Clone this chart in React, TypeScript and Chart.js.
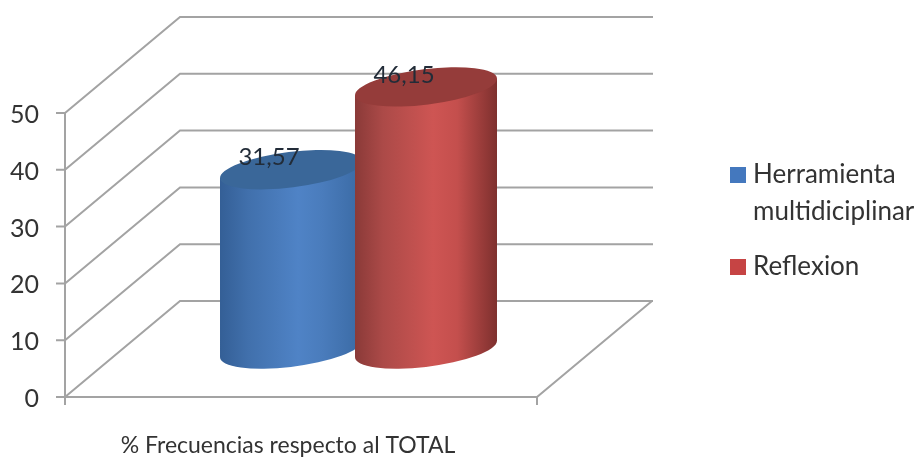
import React, { useEffect, useRef } from "react";
import { Chart, registerables } from "chart.js";

Chart.register(...registerables);

// Chart content
const categories = ["% Frecuencias respecto al TOTAL"];
const seriesNames = [["Herramienta", "multidiciplinar"], ["Reflexion"]];
const seriesValues = [[31.57], [46.15]];
const legendColors = ["#4478BE", "#C64444"];
const bodyStops = [
  ["#345F96", "#4170AC", "#4F83C6", "#4A7CBC", "#3A6AA4"],
  ["#8A3A38", "#AC4A48", "#CE5553", "#C44F4D", "#7E302E"],
];
const capColors = ["#3A6799", "#953C3A"];
const yTicks = { min: 0, max: 50, stepSize: 10 };

// Offset of the back wall from the front plane of the 3D box
const DEPTH_X = 115;
const DEPTH_Y = 96;
const GRID = "#A3A3A3";
const TEXT = "#333333";
const FONT = "Lato";

// Renders one bar element as a shaded cylinder standing mid-depth in the box
function drawCylinder(ctx: CanvasRenderingContext2D, el: any, i: number) {
  const cx = el.x + DEPTH_X / 2;
  const top = el.y - DEPTH_Y / 2;
  const bottom = el.base - DEPTH_Y / 2;
  const halfW = el.width / 2;
  const rot = (-7.1 * Math.PI) / 180;
  const a = halfW * 1.007;
  const b = halfW * 0.25;
  const t0 = Math.atan2(-b * Math.sin(rot), a * Math.cos(rot));
  const skew = a * Math.cos(t0) * Math.sin(rot) + b * Math.sin(t0) * Math.cos(rot);

  const grad = ctx.createLinearGradient(cx - halfW, 0, cx + halfW, 0);
  [0, 0.2, 0.55, 0.72, 1].forEach((p, k) => grad.addColorStop(p, bodyStops[i][k]));
  ctx.fillStyle = grad;
  ctx.beginPath();
  ctx.ellipse(cx, bottom, a, b, rot, t0, t0 + Math.PI);
  ctx.lineTo(cx - halfW, top - skew);
  ctx.lineTo(cx + halfW, top + skew);
  ctx.closePath();
  ctx.fill();

  ctx.fillStyle = capColors[i];
  ctx.beginPath();
  ctx.ellipse(cx, top, a, b, rot, 0, Math.PI * 2);
  ctx.fill();
}

const box3d = {
  id: "box3d",
  beforeDatasetsDraw(chart: any) {
    const { ctx, chartArea: a, scales } = chart;
    const y = scales.y;
    ctx.save();
    ctx.strokeStyle = GRID;
    ctx.lineWidth = 2;
    ctx.lineCap = "butt";
    y.ticks.forEach((t: any) => {
      const py = y.getPixelForValue(t.value);
      ctx.beginPath();
      ctx.moveTo(a.left - 9, py);
      ctx.lineTo(a.left, py);
      ctx.lineTo(a.left + DEPTH_X, py - DEPTH_Y);
      ctx.lineTo(a.right + DEPTH_X + 1, py - DEPTH_Y);
      ctx.stroke();
    });
    // Axis lines and the floor of the box
    const base = y.getPixelForValue(0);
    ctx.beginPath();
    ctx.moveTo(a.left, y.getPixelForValue(50));
    ctx.lineTo(a.left, base + 8);
    ctx.moveTo(a.left, base);
    ctx.lineTo(a.right, base);
    ctx.lineTo(a.right + DEPTH_X, base - DEPTH_Y);
    ctx.moveTo(a.right, base);
    ctx.lineTo(a.right, base + 8);
    ctx.stroke();
    // Left cylinder first so the taller one overlaps it
    chart.data.datasets.forEach((_: any, i: number) => {
      drawCylinder(ctx, chart.getDatasetMeta(i).data[0], i);
    });
    ctx.restore();
  },
  // The flat bars are replaced by the cylinders above
  beforeDatasetDraw() {
    return false;
  },
  afterDatasetsDraw(chart: any) {
    const { ctx } = chart;
    ctx.save();
    ctx.fillStyle = "#222C38";
    ctx.font = `24px ${FONT}`;
    ctx.textAlign = "center";
    ctx.textBaseline = "middle";
    chart.data.datasets.forEach((ds: any, i: number) => {
      const el = chart.getDatasetMeta(i).data[0];
      const text = ds.data[0].toFixed(2).replace(".", ",");
      ctx.fillText(text, el.x + DEPTH_X / 2 - 22, el.y - DEPTH_Y / 2 - 12);
    });
    ctx.restore();
  },
  afterDraw(chart: any) {
    const { ctx } = chart;
    const rows = [183, 275];
    ctx.save();
    ctx.font = `26px ${FONT}`;
    ctx.textBaseline = "alphabetic";
    ctx.textAlign = "left";
    chart.data.datasets.forEach((ds: any, i: number) => {
      ctx.fillStyle = ds.backgroundColor;
      ctx.fillRect(730, rows[i] - 16, 16, 16);
      ctx.fillStyle = TEXT;
      ds.label.forEach((line: string, k: number) => {
        ctx.fillText(line, 753, rows[i] + k * 37);
      });
    });
    ctx.restore();
  },
};

export default function App() {
  const ref = useRef<HTMLCanvasElement>(null);

  useEffect(() => {
    const chart = new Chart(ref.current as HTMLCanvasElement, {
      type: "bar",
      data: {
        labels: categories,
        datasets: seriesValues.map((data, i) => ({
          label: seriesNames[i] as any,
          data,
          backgroundColor: legendColors[i],
        })),
      },
      plugins: [box3d],
      options: {
        responsive: false,
        animation: false,
        layout: { padding: { left: 0, top: 113, right: 383, bottom: 0 } },
        datasets: { bar: { categoryPercentage: 0.572, barPercentage: 1.052 } },
        plugins: { legend: { display: false }, tooltip: { enabled: false } },
        scales: {
          x: {
            grid: { display: false, drawTicks: false },
            border: { display: false },
            afterFit(scale: any) {
              scale.height = 62;
            },
            ticks: {
              color: TEXT,
              font: { family: FONT, size: 23 },
              padding: 35,
              labelOffset: -13,
              maxRotation: 0,
              autoSkip: false,
            },
          },
          y: {
            ...yTicks,
            grid: { display: false, drawTicks: false },
            border: { display: false },
            afterFit(scale: any) {
              scale.width = 65;
            },
            ticks: {
              stepSize: yTicks.stepSize,
              color: TEXT,
              font: { family: FONT, size: 25 },
              padding: 26,
              labelOffset: 2,
            },
          },
        },
      } as any,
    });
    return () => chart.destroy();
  }, []);

  return (
    <div style={{ position: "fixed", left: 0, top: 0, width: 920, height: 459, background: "#fff" }}>
      <canvas ref={ref} width={920} height={459} style={{ display: "block" }} />
    </div>
  );
}
